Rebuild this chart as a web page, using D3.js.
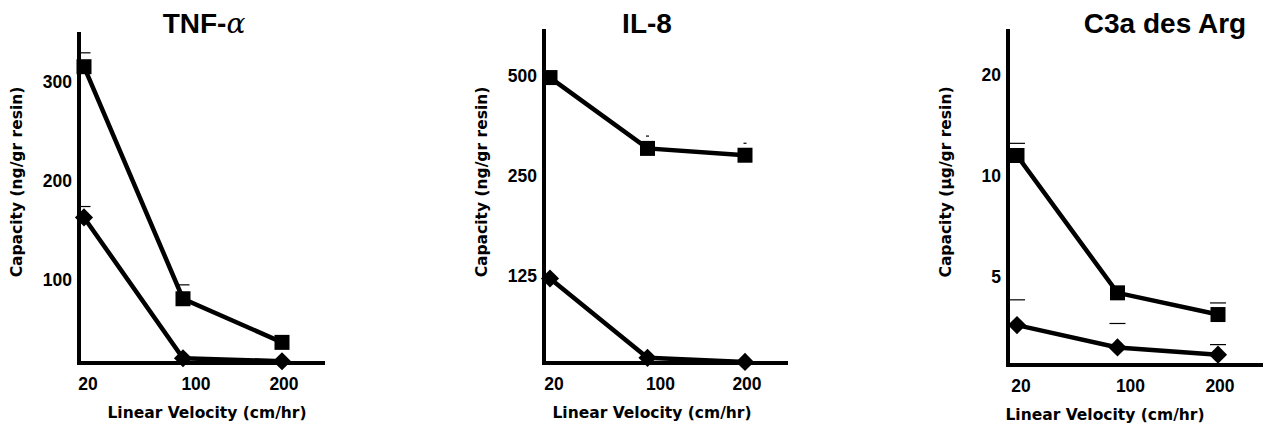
<!DOCTYPE html>
<html lang="en">
<head>
    <meta charset="UTF-8">
    <title>Capacity vs linear velocity</title>
    <style>
        body { margin: 0; background: #fff; }
        text { font-family: "Liberation Sans", Arial, sans-serif; font-weight: bold; }
        .axis-title { font-family: "DejaVu Sans", sans-serif; font-size: 15.5px; }
    </style>
</head>
<body>
    <script src="https://cdn.jsdelivr.net/npm/d3@7"></script>
    <script>
        // data
        var velocities = [20, 100, 200];

        var tnfSquare = [315, 81, 37],
            tnfDiamond = [163, 21, 18],
            tnfSquareErr = [329, 95, null],
            tnfDiamondErr = [174, null, null],
            tnfTicks = [100, 200, 300];

        var il8Square = [495, 303, 289],
            il8Diamond = [123, 71, 69],
            il8SquareErr = [null, 330, 314],
            il8DiamondErr = [null, null, null],
            il8Ticks = [125, 250, 500];

        var c3aSquare = [11.5, 4.48, 3.86],
            c3aDiamond = [3.59, 3.08, 2.93],
            c3aSquareErr = [12.5, null, 4.18],
            c3aDiamondErr = [4.27, 3.63, 3.14],
            c3aTicks = [5, 10, 20];

        var width = 1263,
            height = 425;

        var svg = d3.select('body').append('svg')
            .attr('width', width)
            .attr('height', height);

        // layout of each panel
        var panels = [
            {title: 'TNF-', greek: 'α', ylabel: 'Capacity (ng/gr resin)', titleX: 204, xlabelX: 207,
             axisX: 79, axisEnd: 325, top: 32, bottom: 363, xr: [84, 282],
             y: d3.scaleLinear().domain([16.2, 350]), ticks: tnfTicks,
             sq: tnfSquare, di: tnfDiamond, sqErr: tnfSquareErr, diErr: tnfDiamondErr, capW: 13},
            {title: 'IL-8', ylabel: 'Capacity (ng/gr resin)', titleX: 647, xlabelX: 652,
             axisX: 544, axisEnd: 788, top: 29, bottom: 363, xr: [550, 745],
             y: d3.scaleLog().domain([68.5, 693]), ticks: il8Ticks,
             sq: il8Square, di: il8Diamond, sqErr: il8SquareErr, diErr: il8DiamondErr, capW: 3},
            {title: 'C3a des Arg', ylabel: 'Capacity (µg/gr resin)', titleX: 1165, xlabelX: 1105,
             axisX: 1008, axisEnd: 1263, top: 29, bottom: 365, xr: [1017, 1218],
             y: d3.scaleLog().domain([2.73, 27.4]), ticks: c3aTicks,
             sq: c3aSquare, di: c3aDiamond, sqErr: c3aSquareErr, diErr: c3aDiamondErr, capW: 16}
        ];

        // x tick labels sit a little right of the points
        var labelShift = [4, 13, 2];

        panels.forEach(function(p) {
            var g = svg.append('g');
            var x = d3.scalePoint().domain(velocities).range(p.xr);
            var y = p.y.range([p.bottom, p.top]);

            // title
            var t = g.append('text')
                .attr('x', p.titleX)
                .attr('y', 33)
                .attr('text-anchor', 'middle')
                .style('font-size', '28px')
                .text(p.title);
            if (p.greek) {
                t.append('tspan')
                    .style('font-family', '"DejaVu Serif", serif')
                    .style('font-weight', 'normal')
                    .style('font-style', 'italic')
                    .text(p.greek);
            }

            // y axis
            var yAxis = d3.axisLeft(y)
                .tickValues(p.ticks)
                .tickFormat(d3.format('d'))
                .tickSize(0)
                .tickPadding(7);
            var ya = g.append('g')
                .attr('transform', 'translate(' + p.axisX + ',0)')
                .call(yAxis);
            ya.select('.domain').remove();
            ya.selectAll('text')
                .style('font-size', '17.5px')
                .style('font-family', '"Liberation Sans", Arial, sans-serif')
                .attr('fill', '#000');

            // x tick labels
            g.append('g').selectAll('text')
                .data(velocities)
                .enter()
                .append('text')
                .attr('x', function(d, i) { return x(d) + labelShift[i]; })
                .attr('y', p.bottom + 27)
                .attr('text-anchor', 'middle')
                .style('font-size', '17.5px')
                .text(function(d) { return d; });

            // axis lines
            g.append('line')
                .attr('x1', p.axisX).attr('x2', p.axisX)
                .attr('y1', p.top).attr('y2', p.bottom + 2)
                .attr('stroke', '#000').attr('stroke-width', 4);
            g.append('line')
                .attr('x1', p.axisX - 2).attr('x2', p.axisEnd)
                .attr('y1', p.bottom).attr('y2', p.bottom)
                .attr('stroke', '#000').attr('stroke-width', 4);

            // axis titles
            g.append('text')
                .attr('class', 'axis-title')
                .attr('transform', 'translate(' + (p.axisX - 57) + ',182) rotate(-90)')
                .attr('text-anchor', 'middle')
                .text(p.ylabel);
            g.append('text')
                .attr('class', 'axis-title')
                .attr('x', p.xlabelX)
                .attr('y', p.bottom + 55)
                .attr('text-anchor', 'middle')
                .text('Linear Velocity (cm/hr)');

            var line = d3.line()
                .x(function(d, i) { return x(velocities[i]); })
                .y(function(d) { return y(d); });

            [p.sq, p.di].forEach(function(series) {
                g.append('path')
                    .attr('d', line(series))
                    .attr('fill', 'none')
                    .attr('stroke', '#000')
                    .attr('stroke-width', 4.5);
            });

            // error caps (only the upper caps show in the figure)
            [p.sqErr, p.diErr].forEach(function(errs) {
                g.selectAll(null)
                    .data(errs.map(function(e, i) { return {v: velocities[i], e: e}; })
                        .filter(function(d) { return d.e != null; }))
                    .enter()
                    .append('line')
                    .attr('x1', function(d) { return x(d.v) - p.capW / 2; })
                    .attr('x2', function(d) { return x(d.v) + p.capW / 2; })
                    .attr('y1', function(d) { return y(d.e); })
                    .attr('y2', function(d) { return y(d.e); })
                    .attr('stroke', '#000')
                    .attr('stroke-width', 1.2);
            });

            // markers
            var square = d3.symbol().type(d3.symbolSquare).size(225);
            g.selectAll(null)
                .data(p.sq)
                .enter()
                .append('path')
                .attr('d', square())
                .attr('transform', function(d, i) {
                    return 'translate(' + x(velocities[i]) + ',' + y(d) + ')';
                })
                .attr('fill', '#000');

            var diamond = d3.symbol().type(d3.symbolSquare).size(165);
            g.selectAll(null)
                .data(p.di)
                .enter()
                .append('path')
                .attr('d', diamond())
                .attr('transform', function(d, i) {
                    return 'translate(' + x(velocities[i]) + ',' + y(d) + ') rotate(45)';
                })
                .attr('fill', '#000');
        });
    </script>
</body>
</html>
